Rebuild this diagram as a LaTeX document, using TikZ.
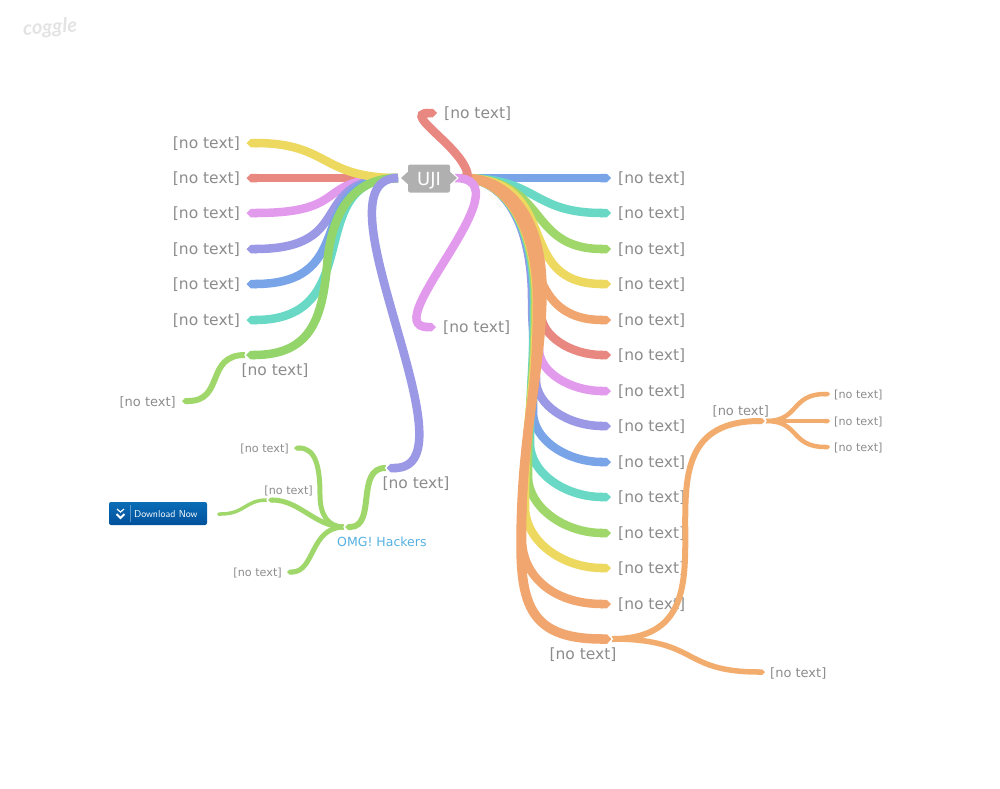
\documentclass[tikz,border=0pt]{standalone}
\usepackage{fontspec}
\setmainfont{DejaVu Sans}
\newfontfamily\logofont{Lato}
\usetikzlibrary{arrows.meta}
\definecolor{cyellow}{HTML}{EDD95F}
\definecolor{cred}{HTML}{E98880}
\definecolor{cpink}{HTML}{E19AEC}
\definecolor{cviolet}{HTML}{9B98E5}
\definecolor{cblue}{HTML}{79A4E8}
\definecolor{cteal}{HTML}{69D9C5}
\definecolor{cgreen}{HTML}{9FD76B}
\definecolor{cgreen_deep}{HTML}{93D46B}
\definecolor{corange}{HTML}{F0A66E}
\definecolor{corange_light}{HTML}{F2AD6E}
\definecolor{clabel}{HTML}{8C8C8C}
\definecolor{chack}{HTML}{55B0E0}
\definecolor{cbutton_top}{HTML}{0A6DB6}
\definecolor{cbutton_low}{HTML}{00509C}
\begin{document}
\begin{tikzpicture}[
  x=1pt, y=-1pt,
  branch/.style={line width=8.5pt, -{Triangle Cap[cap angle=90]}},
  twig/.style={line width=6pt, -{Triangle Cap[cap angle=90]}, color=corange_light},
  sprig/.style={line width=4.5pt, -{Triangle Cap[cap angle=90]}, color=corange_light},
  label_big/.style={text=clabel, font=\fontsize{15.5}{18}\selectfont, inner sep=0pt},
  label_mid/.style={text=clabel, font=\fontsize{13}{15}\selectfont, inner sep=0pt},
  label_small/.style={text=clabel, font=\fontsize{11.2}{13}\selectfont, inner sep=0pt},
  root_box/.style={rectangle, fill=black!31, rounded corners=2pt, minimum width=42pt,
                   minimum height=28pt, inner sep=0pt, text=white,
                   font=\fontsize{18}{20}\selectfont},
  pointer/.style={fill=black!31, draw=white, line width=1pt},
  notch/.style={draw=white, line width=1.2pt},
]
  \useasboundingbox (0,0) rectangle (1000,788);

  % Logo
  \node[text=black!11, font=\logofont\bfseries\itshape\fontsize{20}{22}\selectfont,
        rotate=3, inner sep=0pt] (logo) at (50,28) {coggle};

  % Ends at the root
  \coordinate (root_e) at (462,178);
  \coordinate (root_w) at (398,178);

  % Right branches, upper ones
  \foreach \i/\y/\col/\a/\b in {
      1/178/cblue/520/550, 2/213/cteal/540/530, 3/249/cgreen/550/525,
      4/284/cyellow/565/510, 5/320/corange/560/500} {
    \coordinate (right\i) at (611,\y);
    \draw[branch, color=\col] (root_e) .. controls (\a,178) and (\b,\y) .. (right\i);
  }

  % Right branches, lower ones: down the trunk, then out
  \foreach \i/\y/\col/\tx/\sx/\sy/\cy/\cx in {
      6/355/cred/538/541/313/336/571, 7/391/cpink/538/539/349/372/570,
      8/426/cviolet/532/536/380/405/568, 9/462/cblue/533/533/412/440/567,
      10/497/cteal/534/530/443/473/565, 11/533/cgreen/535/528/476/507/564,
      12/568/cyellow/536/525/507/541/562, 13/604/corange/537/522/539/575/552} {
    \coordinate (right\i) at (611,\y);
    \draw[branch, color=\col] (root_e) .. controls (505,178) and (\tx,225) .. (\tx,300)
       .. controls (\tx,{(300+\sy)/2}) and (\sx,{(300+\sy)/2}) .. (\sx,\sy)
       .. controls (\sx,\cy) and (\cx,\y) .. (right\i);
  }

  % Trunk of the last one
  \coordinate (right14) at (612,639);
  \draw[branch, line width=9.5pt, color=corange] (root_e) .. controls (515,178) and (542,225) .. (542,290)
     .. controls (542,370) and (521,430) .. (521,545)
     .. controls (521,610) and (535,639) .. (right14);

  \foreach \i/\y in {1/178, 2/213, 3/249, 4/284, 5/320, 6/355, 7/391, 8/426,
                     9/462, 10/497, 11/533, 12/568, 13/604}
    \node[label_big, anchor=west] (right_label\i) at (618,\y+0.5) {[no text]};

  % Left branches
  \foreach \i/\y/\col/\a/\b in {
      2/178/cred/320/330, 3/213/cpink/310/355, 4/249/cviolet/305/360,
      5/284/cblue/300/365, 6/320/cteal/300/370, 1/143/cyellow/320/330} {
    \coordinate (left\i) at (246.5,\y);
    \draw[branch, color=\col] (root_w) .. controls (\a,178) and (\b,\y) .. (left\i);
  }
  \foreach \i/\y in {1/143, 2/178, 3/213, 4/249, 5/284, 6/320}
    \node[label_big, anchor=east] (left_label\i) at (240,\y+0.5) {[no text]};

  % Left branch that carries a child
  \coordinate (left7) at (245,355);
  \draw[branch, color=cgreen_deep] (root_w) .. controls (345,178) and (330,225) .. (327,266)
     .. controls (322,320) and (310,355) .. (left7);
  \node[label_big] (left_label7) at (275,370.5) {[no text]};
  \coordinate (far_left) at (182,401);
  \draw[twig, color=cgreen] (left7) .. controls (205,355) and (225,401) .. (far_left);
  \node[label_mid, anchor=east] (far_left_label) at (176,402) {[no text]};

  % Down to the hackers
  \coordinate (hack) at (386,468);
  \draw[branch, color=cviolet] (root_w) .. controls (310,178) and (480,468) .. (hack);
  \node[label_big] (hack_label) at (416,483.5) {[no text]};

  % Above and below the root
  \coordinate (top) at (437,113);
  \coordinate (low) at (436,327);
  \coordinate (root_top) at (468,178);
  \coordinate (root_near) at (455,178);
  \draw[branch, color=cred] (root_top) .. controls (468,150) and (400,113) .. (top);
  \draw[branch, color=cpink] (root_near) .. controls (530,178) and (375,327) .. (low);
  \node[label_big, anchor=west] (top_label) at (444,113.5) {[no text]};
  \node[label_big, anchor=west] (low_label) at (443,327.5) {[no text]};

  % Root
  \draw[pointer] (409,170) -- (400,178) -- (409,186) -- cycle;
  \draw[pointer] (449,170) -- (458,178) -- (449,186) -- cycle;
  \node[root_box, text depth=0pt, yshift=-0.5pt] (root) at (429,178) {UJI};

  % OMG! Hackers and children
  \coordinate (omg) at (344,527);
  \coordinate (omg_top) at (294,448);
  \coordinate (omg_mid) at (267,500);
  \coordinate (omg_low) at (287,572);
  \coordinate (omg_far) at (217,514);
  \draw[twig, color=cgreen] (hack) .. controls (355,467) and (377,527) .. (omg);
  \draw[sprig, line width=5pt, color=cgreen] (omg) .. controls (328,527) and (320,515) .. (320,495)
     .. controls (320,465) and (315,448) .. (omg_top);
  \draw[sprig, line width=5pt, color=cgreen] (omg) .. controls (315,527) and (300,500) .. (omg_mid);
  \draw[sprig, line width=5pt, color=cgreen] (omg) .. controls (310,527) and (315,572) .. (omg_low);
  \draw[sprig, line width=3.5pt, color=cgreen] (omg_mid) .. controls (245,500) and (245,514) .. (omg_far);
  \node[text=chack, font=\fontsize{12.5}{15}\selectfont, inner sep=0pt, anchor=west] (omg_label) at (337,542) {OMG! Hackers};
  \node[label_small, anchor=east] (omg_top_label) at (289,449) {[no text]};
  \node[label_small, anchor=east] (omg_mid_label) at (313,491) {[no text]};
  \node[label_small, anchor=east] (omg_low_label) at (282,573) {[no text]};

  % Download button
  \node[rectangle, rounded corners=2pt, top color=cbutton_top, bottom color=cbutton_low,
        minimum width=98pt, minimum height=23pt, inner sep=0pt] (button) at (158,513.5) {};
  \node[text=white, font=\sffamily\fontsize{10}{11}\selectfont, inner sep=0pt, anchor=west] (button_text) at (134,514) {Download Now};
  \draw[white, line width=1.2pt] (117,509) -- (120.5,512) -- (124,509);
  \draw[white, line width=2pt] (116.5,514) -- (120.5,518) -- (124.5,514);
  \draw[white, opacity=0.35, line width=0.7pt] (130,505) -- (130,522);

  % Children of the last right branch
  \coordinate (up) at (766,421);
  \coordinate (down) at (765,672);
  \draw[twig] (right14) .. controls (760,639) and (610,421) .. (up);
  \draw[twig, line width=5.5pt] (right14) .. controls (700,639) and (680,672) .. (down);
  \node[label_big] (right_label14) at (583,654.5) {[no text]};
  \node[label_mid, anchor=east] (up_label) at (769,411) {[no text]};
  \node[label_mid, anchor=west] (down_label) at (770,673) {[no text]};

  % Leaves at the far right
  \foreach \i/\y in {1/394, 2/421, 3/447} {
    \coordinate (tip\i) at (830,\y);
    \draw[sprig] (up) .. controls (800,421) and (790,\y) .. (tip\i);
    \node[label_small, anchor=west] (tip_label\i) at (834,\y+0.5) {[no text]};
  }

  % White notches where a branch takes over
  \draw[notch] (250,350) -- (245,355) -- (250,360);
  \draw[notch] (390,463) -- (385.5,468) -- (390,473);
  \draw[notch] (348,523) -- (344,527) -- (348,531);
  \draw[notch] (270,497) -- (267,500) -- (270,503);
  \draw[notch] (608,634) -- (612.5,639) -- (608,644);
  \draw[notch] (762,417) -- (766,421) -- (762,425);
\end{tikzpicture}
\end{document}
